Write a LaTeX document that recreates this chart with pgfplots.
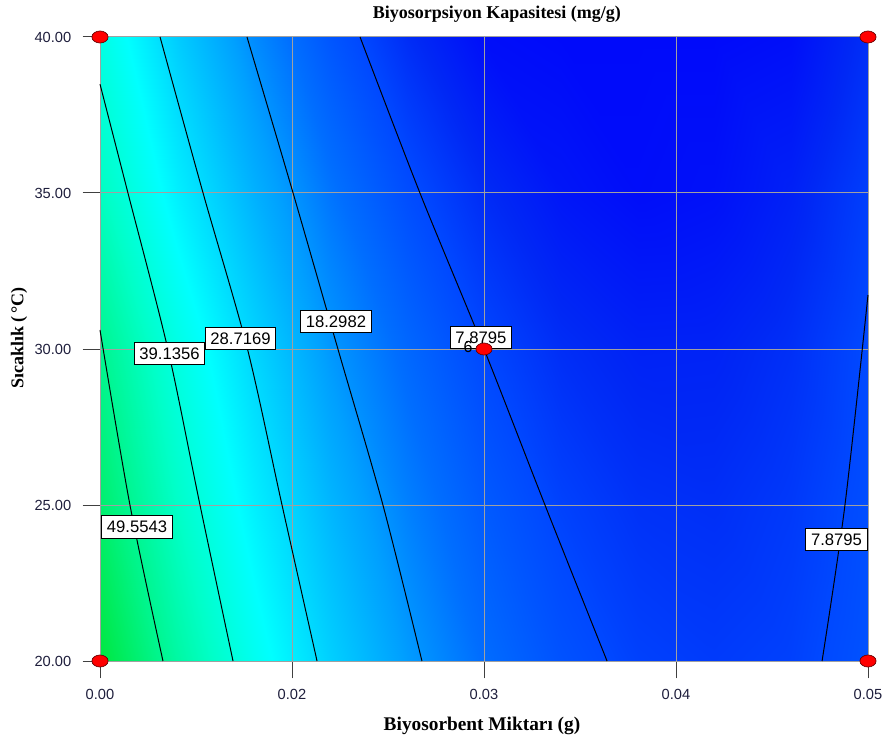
\documentclass[border=0pt]{standalone}
\usepackage{pgfplots}
\usepackage{pgfplotstable}
\pgfplotsset{compat=1.18}
\usepackage{fontspec}
\setmainfont{Liberation Serif}
\newfontfamily\lsans{Liberation Sans}
\definecolor{gridgray}{RGB}{160,160,160}
\definecolor{tickcol}{RGB}{30,30,60}
\tikzset{lbl/.style={fill=white, draw=black, line width=0.75pt,
     font=\lsans\fontsize{12.5}{14}\selectfont, inner xsep=4pt, inner ysep=4pt}}

\pgfplotstableread{
x y z
0.000 20 59.5
0.005 20 47.0
0.010 20 36.2
0.015 20 27.0
0.020 20 19.6
0.025 20 13.7
0.030 20 9.6
0.035 20 7.1
0.040 20 6.3
0.045 20 7.1
0.050 20 9.6
0.000 25 53.9
0.005 25 42.0
0.010 25 31.8
0.015 25 23.2
0.020 25 16.2
0.025 25 10.9
0.030 25 7.2
0.035 25 5.2
0.040 25 4.8
0.045 25 6.1
0.050 25 8.9
0.000 30 49.6
0.005 30 38.0
0.010 30 27.8
0.015 30 19.1
0.020 30 13.0
0.025 30 7.9
0.030 30 4.7
0.035 30 3.2
0.040 30 3.3
0.045 30 4.9
0.050 30 8.2
0.000 35 43.0
0.005 35 31.8
0.010 35 22.5
0.015 35 14.8
0.020 35 8.8
0.025 35 4.4
0.030 35 1.6
0.035 35 0.4
0.040 35 0.9
0.045 35 3.0
0.050 35 6.8
0.000 40 38.0
0.005 40 26.5
0.010 40 17.5
0.015 40 10.2
0.020 40 4.6
0.025 40 0.5
0.030 40 -1.9
0.035 40 -2.7
0.040 40 -1.9
0.045 40 0.6
0.050 40 4.8
}\surfdata

\begin{document}
\begin{tikzpicture}
\begin{axis}[
  anchor=south west,
  scale only axis, width=576pt, height=468pt,
  xmin=0, xmax=0.05, ymin=20, ymax=40,
  xtick={0,0.0125,0.025,0.0375,0.05},
  xticklabels={0.00,0.02,0.03,0.04,0.05},
  ytick={20,25,30,35,40},
  yticklabels={20.00,25.00,30.00,35.00,40.00},
  scaled x ticks=false,
  grid=major, major grid style={gridgray, line width=0.75pt},
  axis line style={gridgray, line width=0.75pt},
  tick pos=left, tick align=outside, major tick length=13pt,
  tick style={black!75, line width=0.75pt},
  ticklabel style={font=\lsans\fontsize{11}{13}\selectfont, text=tickcol},
  xticklabel style={yshift=-5pt},
  yticklabel style={xshift=-5pt},
  set layers, clip=false,
  colormap={de}{rgb255(0cm)=(0,10,250); rgb255(4cm)=(0,40,245); rgb255(8cm)=(0,72,255);
     rgb255(14cm)=(0,110,255); rgb255(20cm)=(0,160,255); rgb255(28cm)=(0,215,255);
     rgb255(34cm)=(0,255,255); rgb255(42cm)=(0,255,200); rgb255(50cm)=(0,245,140);
     rgb255(60cm)=(0,230,60)},
  point meta min=0, point meta max=60,
  title={Biyosorpsiyon Kapasitesi (mg/g)},
  title style={at={(axis description cs:0.5169,1.0369)}, anchor=center, yshift=-6pt,
     font=\fontsize{13.5}{15}\selectfont\bfseries},
  xlabel={Biyosorbent Miktarı (g)},
  xlabel style={at={(axis description cs:0.4974,-0.1042)}, anchor=center,
     font=\fontsize{14.5}{16}\selectfont\bfseries},
  ylabel={Sıcaklık (\,°C)},
  ylabel style={at={(axis description cs:-0.1055,0.5176)}, anchor=center,
     font=\fontsize{13.5}{15}\selectfont\bfseries},
]
\addplot[surf, shader=interp, mesh/cols=11, point meta=explicit, on layer=axis background]
  table[x=x, y=y, meta=z]{\surfdata};

\addplot[black, line width=0.75pt, smooth] coordinates {(0,30.61) (0.00195,25.0) (0.00410,20)};
\addplot[black, line width=0.75pt, smooth] coordinates {(0,38.49) (0.00182,35) (0.00443,29.97) (0.00651,25) (0.00866,20)};
\addplot[black, line width=0.75pt, smooth] coordinates {(0.00391,40) (0.00671,35) (0.0096,30) (0.01185,25) (0.01413,20)};
\addplot[black, line width=0.75pt, smooth] coordinates {(0.00957,40) (0.01257,35) (0.01549,30) (0.01842,25) (0.02096,20)};
\addplot[black, line width=0.75pt, smooth] coordinates {(0.01693,40) (0.02083,35) (0.0250,30) (0.02897,25) (0.03301,20)};
\addplot[black, line width=0.75pt, smooth] coordinates {(0.05,31.73) (0.0485,25) (0.04701,20)};

\node[lbl] at (axis cs:0.00241,24.29) {49.5543};
\node[lbl] at (axis cs:0.004525,29.86) {39.1356};
\node[lbl] at (axis cs:0.009147,30.34) {28.7169};
\node[lbl] at (axis cs:0.01536,30.88) {18.2982};
\node[lbl] at (axis cs:0.0248,30.37) {7.8795};
\node[lbl] at (axis cs:0.04795,23.89) {7.8795};
\node[font=\lsans\fontsize{12}{14}\selectfont] at (axis cs:0.02396,30.05) {6};

\addplot[only marks, mark=*, mark size=4.5pt,
  mark options={xscale=1.35, fill=red, draw=red!40!black, line width=0.5pt}]
  coordinates {(0,20) (0,40) (0.05,20) (0.05,40) (0.025,30)};
\end{axis}
\pgfresetboundingbox
\path (-75pt,-64.5pt) rectangle (588.75pt,495.75pt);
\end{tikzpicture}
\end{document}
